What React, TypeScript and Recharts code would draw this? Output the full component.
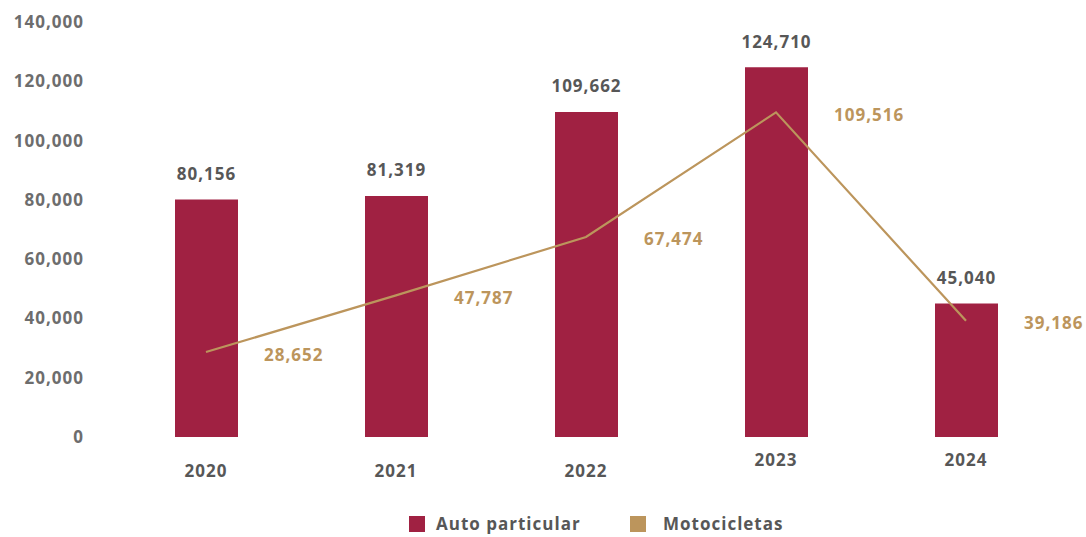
import React from 'react';
import { ComposedChart, Bar, Line, XAxis, YAxis, LabelList } from 'recharts';

const years = ['2020', '2021', '2022', '2023', '2024'];
const autoParticular = [80156, 81319, 109662, 124710, 45040];
const motocicletas = [28652, 47787, 67474, 109516, 39186];
const yTicks = [0, 20000, 40000, 60000, 80000, 100000, 120000, 140000];

const data = years.map((year, i) => ({
    year,
    auto: autoParticular[i],
    moto: motocicletas[i],
}));

const FONT = '"Open Sans", sans-serif';
const BAR_COLOR = '#A02142';
const LINE_COLOR = '#BC955C';
const fmt = (v: number) => v.toLocaleString('en-US');

// year labels: the last two sit a little higher in the original
const YearTick = (props: any) => {
    const { x, y, payload, index } = props;
    const dy = index >= 3 ? 14 : 25;
    return (
        <text x={x} y={y + dy} textAnchor="middle" dominantBaseline="central" letterSpacing={1}
            fill="#575757" fontFamily={FONT} fontWeight={700} fontSize={17}>
            {payload.value}
        </text>
    );
};

const BarValue = (props: any) => {
    const { x, y, width, value } = props;
    return (
        <text x={x + width / 2} y={y - 26} textAnchor="middle" dominantBaseline="central" letterSpacing={1}
            fill="#575757" fontFamily={FONT} fontWeight={700} fontSize={17}>
            {fmt(value)}
        </text>
    );
};

const LineValue = (props: any) => {
    const { x, y, value } = props;
    return (
        <text x={x + 58} y={y + 2} textAnchor="start" dominantBaseline="central" letterSpacing={1}
            fill={LINE_COLOR} fontFamily={FONT} fontWeight={700} fontSize={17}>
            {fmt(value)}
        </text>
    );
};

const LegendItem = ({ color, label, left, gap }: { color: string; label: string; left: number; gap: number }) => (
    <div style={{ position: 'absolute', left, top: 514, display: 'flex', alignItems: 'center' }}>
        <div style={{ width: 16, height: 16, background: color }} />
        <span style={{ marginLeft: gap, fontFamily: FONT, fontWeight: 700, fontSize: 17, letterSpacing: 1, color: '#575757', lineHeight: '20px' }}>
            {label}
        </span>
    </div>
);

export default function App() {
    return (
        <div style={{ position: 'absolute', left: 0, top: 0, width: 1086, height: 537, overflow: 'hidden', background: '#fff' }}>
            <ComposedChart width={1086} height={537} data={data}
                margin={{ top: 22, right: 25, left: 11, bottom: 40 }}>
                <XAxis dataKey="year" axisLine={false} tickLine={false} tick={<YearTick />} height={60} interval={0} />
                <YAxis domain={[0, 140000]} ticks={yTicks} axisLine={false} tickLine={false}
                    width={100} tickSize={0} tickMargin={27} tickFormatter={fmt}
                    tick={{ fill: '#6d6d6d', fontFamily: FONT, fontWeight: 700, fontSize: 17, letterSpacing: 1 }} />
                <Bar dataKey="auto" fill={BAR_COLOR} barSize={63} isAnimationActive={false}>
                    <LabelList dataKey="auto" content={<BarValue />} />
                </Bar>
                <Line dataKey="moto" type="linear" stroke={LINE_COLOR} strokeWidth={2.2} dot={false}
                    activeDot={false} isAnimationActive={false}>
                    <LabelList dataKey="moto" content={<LineValue />} />
                </Line>
            </ComposedChart>
            <LegendItem color={BAR_COLOR} label="Auto particular" left={409} gap={11} />
            <LegendItem color={LINE_COLOR} label="Motocicletas" left={630} gap={17} />
        </div>
    );
}
